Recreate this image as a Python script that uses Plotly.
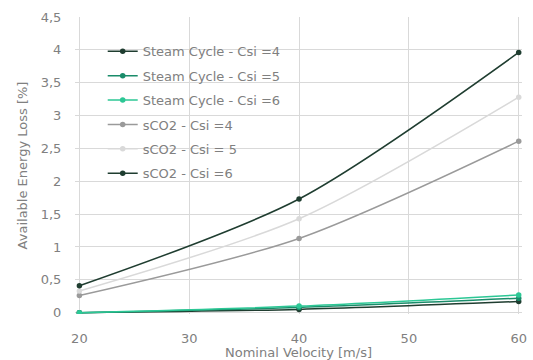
import plotly.graph_objects as go

velocity = [20, 40, 60]
steam_csi4 = [0.0, 0.05, 0.17]
steam_csi5 = [0.0, 0.08, 0.22]
steam_csi6 = [0.0, 0.10, 0.27]
sco2_csi4 = [0.26, 1.13, 2.61]
sco2_csi5 = [0.33, 1.43, 3.28]
sco2_csi6 = [0.41, 1.73, 3.96]

names = ["Steam Cycle - Csi =4", "Steam Cycle - Csi =5", "Steam Cycle - Csi =6",
         "sCO2 - Csi =4", "sCO2 - Csi = 5", "sCO2 - Csi =6"]
series = [steam_csi4, steam_csi5, steam_csi6, sco2_csi4, sco2_csi5, sco2_csi6]
colors = ["#1f3d30", "#1a8c6a", "#2cc795", "#9a9a9a", "#d9d9d9", "#1f3d30"]

x_ticks = [20, 30, 40, 50, 60]
y_ticks = [0, 0.5, 1, 1.5, 2, 2.5, 3, 3.5, 4, 4.5]
y_labels = ["0", "0,5", "1", "1,5", "2", "2,5", "3", "3,5", "4", "4,5"]

fig = go.Figure()
order = [3, 4, 5, 0, 1, 2]
for i in order:
    fig.add_trace(go.Scatter(
        x=velocity, y=series[i], name=names[i], mode="lines+markers",
        line=dict(color=colors[i], width=1.5, shape="spline", smoothing=0.8),
        marker=dict(color=colors[i], size=5.5), legendrank=i + 1,
        legendgroup="g%d" % i,
    ))

font = "DejaVu Sans, sans-serif"
txt = "#808080"
fig.update_layout(
    width=533, height=360,
    margin=dict(l=75, r=11, t=17, b=46),
    paper_bgcolor="white", plot_bgcolor="white",
    font=dict(family=font, size=13, color=txt),
    showlegend=True,
    legend=dict(x=0.062, y=0.935, xanchor="left", yanchor="top",
                bgcolor="rgba(0,0,0,0)", font=dict(size=13, color=txt),
                tracegroupgap=4.5, itemwidth=30, traceorder="grouped"),
    xaxis=dict(range=[19.6, 60.3], tickvals=x_ticks, showgrid=True, gridcolor="#d9d9d9",
               zeroline=False, showline=False, ticks="outside", ticklen=12,
               tickcolor="rgba(0,0,0,0)", automargin=False,
               title=dict(text="Nominal Velocity [m/s]", standoff=0,
                          font=dict(size=13, color=txt))),
    yaxis=dict(range=[-0.02, 4.5], tickvals=y_ticks, ticktext=y_labels, showgrid=True,
               gridcolor="#d9d9d9", zeroline=False, showline=False,
               ticks="outside", ticklen=10, tickcolor="rgba(0,0,0,0)", automargin=False,
               title=dict(text="Available Energy Loss [%]", standoff=10,
                          font=dict(size=13, color=txt))),
)
fig.write_html("out.html", config={"displayModeBar": False},
               post_script="document.body.style.margin='0';")
